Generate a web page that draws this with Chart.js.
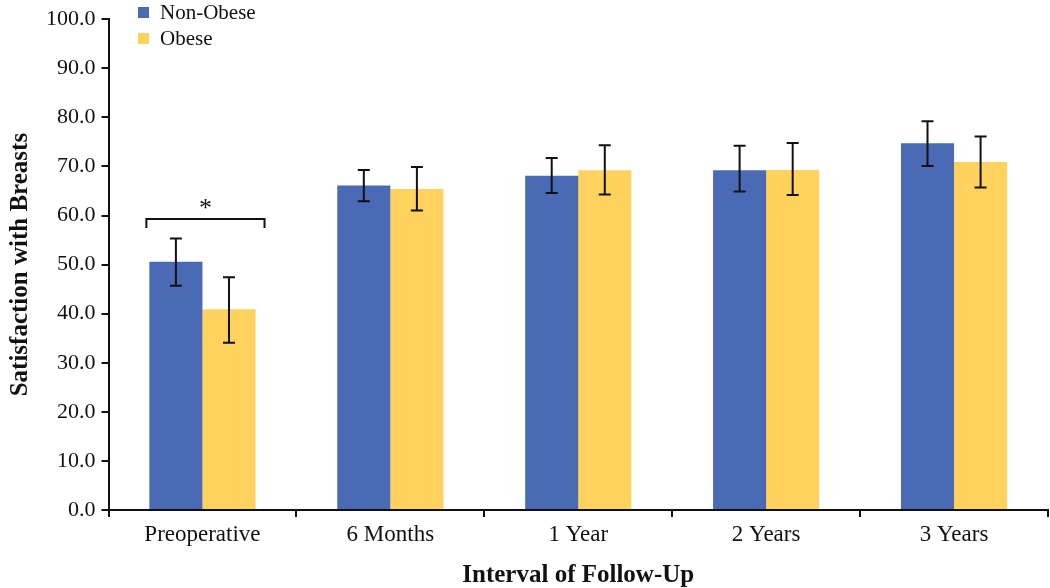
<!DOCTYPE html>
<html>
<head>
<meta charset="utf-8">
<script src="https://cdn.jsdelivr.net/npm/chart.js@4"></script>
<style>
  body { margin: 0; background: #fff; }
  #wrap { width: 1050px; height: 588px; }
</style>
</head>
<body>
<div id="wrap"><canvas id="myChart"></canvas></div>
<script>
"use strict";
const categories = ["Preoperative", "6 Months", "1 Year", "2 Years", "3 Years"];
const nonObese = [50.6, 66.1, 68.1, 69.2, 74.7];
const nonObeseLow = [45.7, 62.9, 64.6, 64.9, 70.1];
const nonObeseHigh = [55.3, 69.3, 71.7, 74.2, 79.2];
const obese = [40.9, 65.4, 69.2, 69.3, 70.9];
const obeseLow = [34.1, 61.0, 64.3, 64.2, 65.7];
const obeseHigh = [47.4, 69.9, 74.3, 74.8, 76.1];
const lows = [nonObeseLow, obeseLow];
const highs = [nonObeseHigh, obeseHigh];

const FONT = "'Liberation Serif', 'Times New Roman', serif";

// error bars, significance bracket and legend
const extras = {
  id: "extras",
  afterDatasetsDraw(chart) {
    const c = chart.ctx;
    const y = chart.scales.y;
    c.save();
    c.strokeStyle = "#111";
    c.lineWidth = 2;
    chart.data.datasets.forEach((ds, i) => {
      chart.getDatasetMeta(i).data.forEach((bar, j) => {
        const yl = y.getPixelForValue(lows[i][j]);
        const yh = y.getPixelForValue(highs[i][j]);
        c.beginPath();
        c.moveTo(bar.x, yl); c.lineTo(bar.x, yh);
        c.moveTo(bar.x - 6, yl); c.lineTo(bar.x + 6, yl);
        c.moveTo(bar.x - 6, yh); c.lineTo(bar.x + 6, yh);
        c.stroke();
      });
    });
    // bracket over preoperative
    const b0 = chart.getDatasetMeta(0).data[0];
    const b1 = chart.getDatasetMeta(1).data[0];
    const x0 = b0.x - b0.width / 2 - 3;
    const x1 = b1.x + b1.width / 2 + 9;
    const yb = y.getPixelForValue(59.3);
    c.beginPath();
    c.moveTo(x0, yb + 9); c.lineTo(x0, yb); c.lineTo(x1, yb); c.lineTo(x1, yb + 9);
    c.stroke();
    c.fillStyle = "#111";
    c.font = "26px " + FONT;
    c.textAlign = "center";
    c.textBaseline = "middle";
    c.fillText("*", (x0 + x1) / 2, yb - 10);
    // legend
    c.font = "21px " + FONT;
    c.textAlign = "left";
    chart.data.datasets.forEach((ds, i) => {
      const ly = 12 + i * 26;
      c.fillStyle = ds.backgroundColor;
      c.fillRect(138, ly - 5, 11, 11);
      c.fillStyle = "#111";
      c.fillText(ds.label, 160, ly + 1);
    });
    c.restore();
  },
};

const ctx = document.getElementById("myChart").getContext("2d");
const myChart = new Chart(ctx, {
  type: "bar",
  data: {
    labels: categories,
    datasets: [
      { label: "Non-Obese", data: nonObese, backgroundColor: "#4A6AB6" },
      { label: "Obese", data: obese, backgroundColor: "#FFD15D" },
    ],
  },
  options: {
    responsive: true,
    maintainAspectRatio: false,
    animation: false,
    layout: { padding: { top: 10, right: 2, left: 2, bottom: 0 } },
    datasets: { bar: { barPercentage: 1, categoryPercentage: 0.565 } },
    plugins: {
      legend: { display: false },
      tooltip: { enabled: false },
    },
    scales: {
      x: {
        grid: { offset: true, drawOnChartArea: false, drawTicks: true, tickLength: 7, color: "#111", lineWidth: 2 },
        border: { color: "#111", width: 2 },
        ticks: { color: "#111", font: { family: FONT, size: 23, lineHeight: 1 }, padding: 6 },
        title: { display: true, text: "Interval of Follow-Up", color: "#111", font: { family: FONT, size: 25, weight: "bold", lineHeight: 1 }, padding: { top: 11, bottom: 0 } },
      },
      y: {
        min: 0,
        max: 100,
        grid: { drawOnChartArea: false, drawTicks: true, tickLength: 7, color: "#111", lineWidth: 2 },
        border: { color: "#111", width: 2 },
        ticks: { stepSize: 10, color: "#111", font: { family: FONT, size: 22 }, padding: 6, callback: v => v.toFixed(1) },
        title: { display: true, text: "Satisfaction with Breasts", color: "#111", font: { family: FONT, size: 25, weight: "bold" }, padding: { bottom: 4 } },
      },
    },
  },
  plugins: [extras],
});
</script>
</body>
</html>
